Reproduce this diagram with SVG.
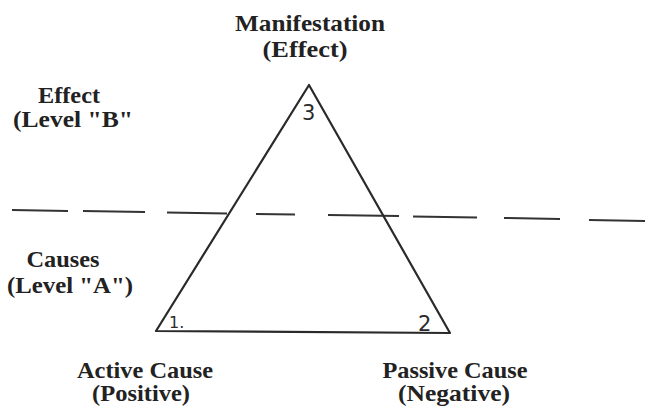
<svg xmlns="http://www.w3.org/2000/svg" width="646" height="409" viewBox="0 0 646 409">
<style>
.lbl{font-family:"Liberation Serif","Times New Roman",serif;font-weight:bold;font-size:23px;fill:#222;text-anchor:middle}
.hand{font-family:"DejaVu Sans",sans-serif;fill:#2a2a2a}
.ln{stroke:#2a2a2a;stroke-width:2.2;fill:none;stroke-linecap:round;stroke-linejoin:round}
.dash{stroke:#333;stroke-width:2;fill:none}
</style>
<rect width="646" height="409" fill="#fff"/>
<g id="connectors">
<path class="dash" d="M12 210 L68 211 M83 211 L145 212 M167 212.5 L227 213.5 M256 214 L295 214.5 M328 215 L399 216 M413 216.5 L477 217.5 M504 218 L560 219 M589 220 L645 221"/>
</g>
<g id="triangle">
<path class="ln" d="M309 85 L156 331 L450 333 Z"/>
<text class="hand" x="302" y="120" font-size="21">3</text>
<text class="hand" x="169" y="328" font-size="16">1.</text>
<text class="hand" x="418" y="331" font-size="21">2</text>
</g>
<g id="manifestation">
<text class="lbl" x="310" y="31" textLength="150" lengthAdjust="spacingAndGlyphs">Manifestation</text>
<text class="lbl" x="305" y="57" textLength="85" lengthAdjust="spacingAndGlyphs">(Effect)</text>
</g>
<g id="levelB">
<text class="lbl" x="69" y="103" textLength="62" lengthAdjust="spacingAndGlyphs">Effect</text>
<text class="lbl" x="73" y="127" textLength="120" lengthAdjust="spacingAndGlyphs">(Level "B"</text>
</g>
<g id="levelA">
<text class="lbl" x="63" y="267" textLength="73" lengthAdjust="spacingAndGlyphs">Causes</text>
<text class="lbl" x="70" y="293" textLength="126" lengthAdjust="spacingAndGlyphs">(Level "A")</text>
</g>
<g id="active">
<text class="lbl" x="145" y="378" textLength="136" lengthAdjust="spacingAndGlyphs">Active Cause</text>
<text class="lbl" x="141" y="401" textLength="98" lengthAdjust="spacingAndGlyphs">(Positive)</text>
</g>
<g id="passive">
<text class="lbl" x="455" y="378" textLength="145" lengthAdjust="spacingAndGlyphs">Passive Cause</text>
<text class="lbl" x="454" y="401" textLength="112" lengthAdjust="spacingAndGlyphs">(Negative)</text>
</g>
</svg>
